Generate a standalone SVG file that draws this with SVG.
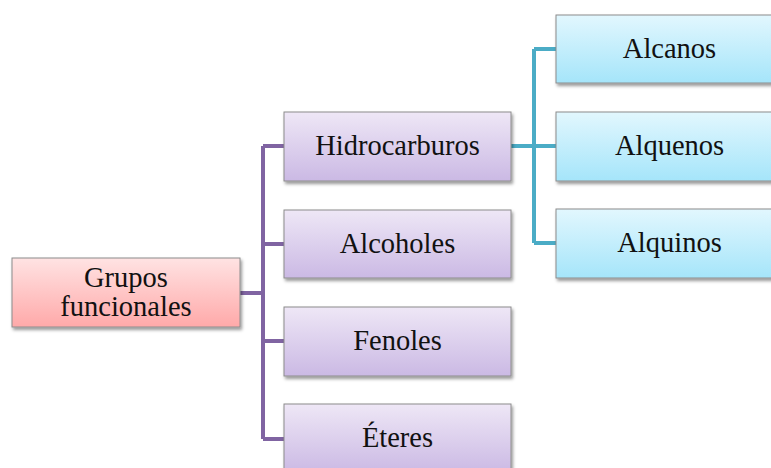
<svg xmlns="http://www.w3.org/2000/svg" width="771" height="468" viewBox="0 0 771 468">
  <defs>
    <linearGradient id="gPink" x1="0" y1="0" x2="0" y2="1">
      <stop offset="0" stop-color="#ffe3e3"/>
      <stop offset="1" stop-color="#ffa9a9"/>
    </linearGradient>
    <linearGradient id="gPurple" x1="0" y1="0" x2="0" y2="1">
      <stop offset="0" stop-color="#eee7f6"/>
      <stop offset="1" stop-color="#cbb9e4"/>
    </linearGradient>
    <linearGradient id="gCyan" x1="0" y1="0" x2="0" y2="1">
      <stop offset="0" stop-color="#e2f7fe"/>
      <stop offset="1" stop-color="#a5e5fa"/>
    </linearGradient>
    <filter id="shadow" x="-10%" y="-20%" width="120%" height="150%">
      <feDropShadow dx="1.5" dy="2.5" stdDeviation="1.6" flood-color="#000" flood-opacity="0.4"/>
    </filter>
  </defs>
  <style>
    .box { stroke: #8c8c8c; stroke-width: 1; filter: url(#shadow); }
    .pink { fill: url(#gPink); }
    .purple { fill: url(#gPurple); }
    .cyan { fill: url(#gCyan); }
    .lbl { font-family: "Liberation Serif", "Times New Roman", serif; font-size: 28.5px; fill: #111; text-anchor: middle; }
    .wire { fill: none; stroke-width: 4; stroke-linejoin: miter; }
    .violet { stroke: #8064a2; }
    .teal { stroke: #4bacc6; }
  </style>

  <rect width="771" height="468" fill="#ffffff"/>

  <!-- connectors -->
  <g id="connectors">
    <path class="wire violet" d="M240 293 H263 M263 146 V439 M263 146 H284 M263 244 H284 M263 341 H284 M263 439 H284"/>
    <path class="wire teal" d="M511 146 H556 M534 49 V243 M534 49 H556 M534 243 H556"/>
  </g>

  <!-- root -->
  <g id="grupos">
    <rect class="box pink" x="12" y="258" width="228" height="69"/>
    <text class="lbl" x="126" y="287">Grupos</text>
    <text class="lbl" x="126" y="316">funcionales</text>
  </g>

  <!-- first level -->
  <g id="hidrocarburos">
    <rect class="box purple" x="284" y="112" width="227" height="69"/>
    <text class="lbl" x="397.5" y="155">Hidrocarburos</text>
  </g>
  <g id="alcoholes">
    <rect class="box purple" x="284" y="210" width="227" height="68"/>
    <text class="lbl" x="397.5" y="253">Alcoholes</text>
  </g>
  <g id="fenoles">
    <rect class="box purple" x="284" y="307" width="227" height="69"/>
    <text class="lbl" x="397.5" y="350">Fenoles</text>
  </g>
  <g id="eteres">
    <rect class="box purple" x="284" y="404" width="227" height="69"/>
    <text class="lbl" x="397.5" y="447">Éteres</text>
  </g>

  <!-- second level -->
  <g id="alcanos">
    <rect class="box cyan" x="556" y="15" width="227" height="68"/>
    <text class="lbl" x="669.5" y="58">Alcanos</text>
  </g>
  <g id="alquenos">
    <rect class="box cyan" x="556" y="112" width="227" height="69"/>
    <text class="lbl" x="669.5" y="155">Alquenos</text>
  </g>
  <g id="alquinos">
    <rect class="box cyan" x="556" y="209" width="227" height="69"/>
    <text class="lbl" x="669.5" y="252">Alquinos</text>
  </g>
</svg>
